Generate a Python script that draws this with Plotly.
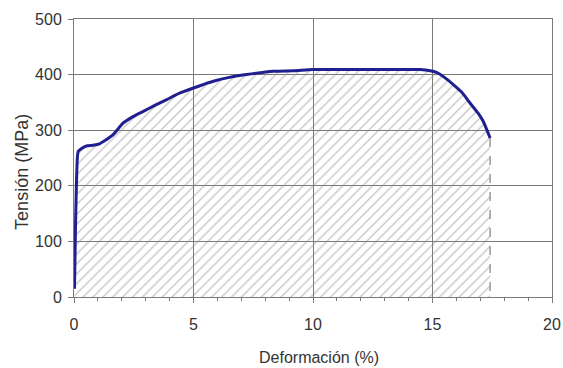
import plotly.graph_objects as go

# Stress-strain curve: strain (%) vs stress (MPa)
deformacion = [0.02, 0.06, 0.10, 0.14, 0.18, 0.35, 0.55, 0.80, 1.09, 1.35, 1.64, 2.06, 2.45, 2.90,
               3.40, 3.88, 4.44, 5.27, 5.83, 6.50, 7.22, 8.34, 9.20, 10.0, 11.5, 12.8, 14.48,
               15.17, 15.50, 15.87, 16.25, 16.57, 16.90, 17.12, 17.41]
tension = [15, 120, 200, 250, 262, 268, 272, 273, 276, 283, 292, 313, 324, 334,
           345, 355, 367, 380, 388, 395, 400, 406, 407, 409, 409, 409, 409,
           404, 395, 382, 367, 349, 331, 316, 286]

x_ticks = [0, 5, 10, 15, 20]
y_ticks = [0, 100, 200, 300, 400, 500]

x_title = "Deformación (%)"
y_title = "Tensión (MPa)"

fig = go.Figure()

# Hatched area under the curve (energy absorbed)
fig.add_trace(go.Scatter(
    x=deformacion, y=tension, mode="none", fill="tozeroy",
    fillcolor="rgba(0,0,0,0)",
    fillpattern=dict(shape="/", size=7, solidity=0.2, fgcolor="#8f8f8f", bgcolor="rgba(255,255,255,0)"),
    hoverinfo="skip", showlegend=False,
))

# Dashed drop line at rupture
fig.add_trace(go.Scatter(
    x=[deformacion[-1], deformacion[-1]], y=[tension[-1], 0], mode="lines",
    line=dict(color="#8a8a8a", width=1.3, dash="dash"), showlegend=False,
))

# Stress-strain curve
fig.add_trace(go.Scatter(
    x=deformacion, y=tension, mode="lines",
    line=dict(color="#1f1f8f", width=3, shape="spline", smoothing=0.6),
    showlegend=False,
))

axis_common = dict(
    showgrid=True, gridcolor="#7a7a7a", gridwidth=1,
    zeroline=False, showline=True, linecolor="#7a7a7a", mirror=True,
    ticks="outside", ticklen=5, tickcolor="#7a7a7a",
    automargin=False, tickfont=dict(size=16, color="#333333"),
)

fig.update_layout(
    width=563, height=368,
    margin=dict(l=74, r=11, t=19, b=71),
    paper_bgcolor="white", plot_bgcolor="white",
    font=dict(family="Liberation Sans, Arial, sans-serif", size=16, color="#333333"),
    xaxis=dict(
        range=[0, 20], tickvals=x_ticks, ticklabelstandoff=8,
        minor=dict(dtick=1, ticks="outside", ticklen=3, tickcolor="#7a7a7a", showgrid=False),
        **axis_common,
    ),
    yaxis=dict(
        range=[0, 500], tickvals=y_ticks, ticklabelstandoff=3,
        **axis_common,
    ),
    annotations=[
        dict(text=x_title, xref="paper", yref="paper", x=0.5126, y=-0.218,
             xanchor="center", yanchor="middle", showarrow=False,
             font=dict(size=16, color="#333333")),
        dict(text=y_title, xref="paper", yref="paper", x=-0.1088, y=0.45,
             xanchor="center", yanchor="middle", textangle=-90, showarrow=False,
             font=dict(size=18, color="#333333")),
    ],
)

fig.write_html("out.html")
